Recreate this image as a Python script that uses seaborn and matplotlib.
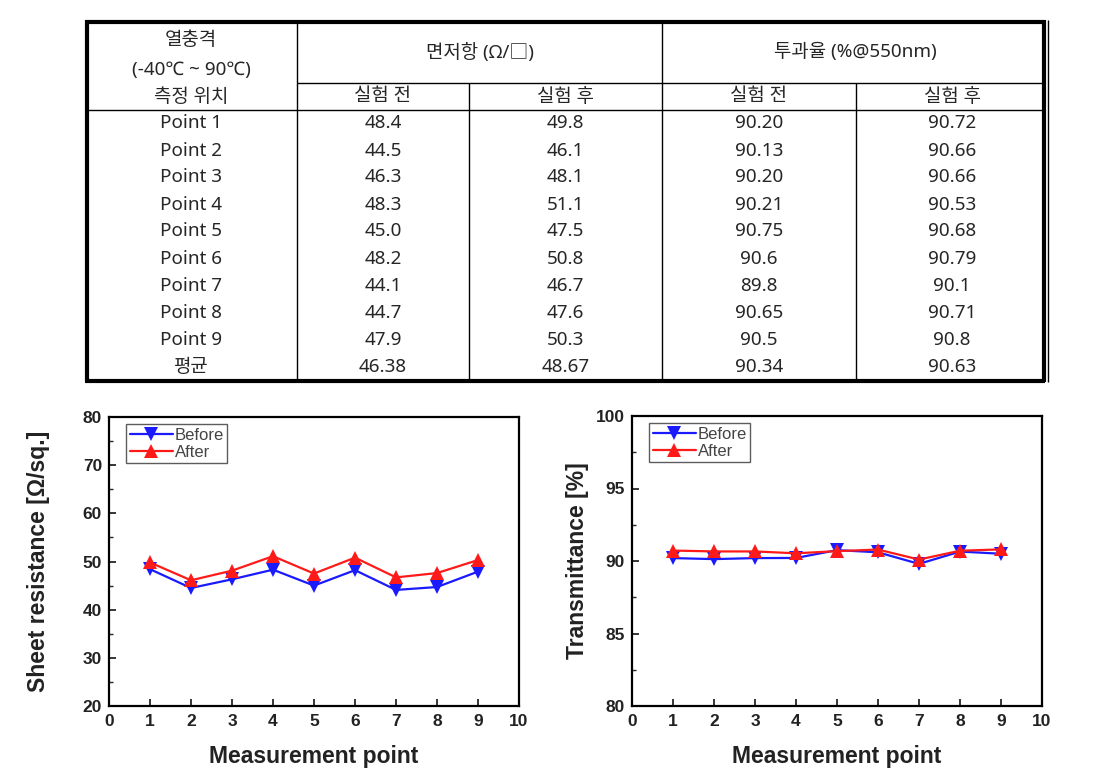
import matplotlib
matplotlib.use("Agg")
import matplotlib.pyplot as plt
from matplotlib.ticker import MultipleLocator
import seaborn as sns
import pandas as pd

# ---------------- data ----------------
points = ["Point 1", "Point 2", "Point 3", "Point 4", "Point 5",
          "Point 6", "Point 7", "Point 8", "Point 9"]
point_idx = [1, 2, 3, 4, 5, 6, 7, 8, 9]
rs_before = [48.4, 44.5, 46.3, 48.3, 45.0, 48.2, 44.1, 44.7, 47.9]
rs_after = [49.8, 46.1, 48.1, 51.1, 47.5, 50.8, 46.7, 47.6, 50.3]
tr_before = [90.20, 90.13, 90.20, 90.21, 90.75, 90.6, 89.8, 90.65, 90.5]
tr_after = [90.72, 90.66, 90.66, 90.53, 90.68, 90.79, 90.1, 90.71, 90.8]
rs_before_txt = ["48.4", "44.5", "46.3", "48.3", "45.0", "48.2", "44.1", "44.7", "47.9", "46.38"]
rs_after_txt = ["49.8", "46.1", "48.1", "51.1", "47.5", "50.8", "46.7", "47.6", "50.3", "48.67"]
tr_before_txt = ["90.20", "90.13", "90.20", "90.21", "90.75", "90.6", "89.8", "90.65", "90.5", "90.34"]
tr_after_txt = ["90.72", "90.66", "90.66", "90.53", "90.68", "90.79", "90.1", "90.71", "90.8", "90.63"]
row_labels = points + ["평균"]
header_top = ["열충격", "(-40℃ ~ 90℃)", "면저항 (Ω/□)", "투과율 (%@550nm)"]
header_sub = ["측정 위치", "실험 전", "실험 후", "실험 전", "실험 후"]
series_names = ["Before", "After"]

# ---------------- figure ----------------
sns.set_theme(style="white")
plt.rcParams['font.family'] = ['Liberation Sans', 'Noto Sans CJK KR', 'DejaVu Sans']
W, H = 1111, 777
fig = plt.figure(figsize=(W / 100, H / 100), dpi=100)
fig.patch.set_facecolor("white")


def rect(x0, y0, x1, y1):
    return [x0 / W, 1 - y1 / H, (x1 - x0) / W, (y1 - y0) / H]


# ---------------- table ----------------
tx0, ty0, tx1, ty1 = 85, 20, 1048, 382
ax_t = fig.add_axes(rect(tx0, ty0, tx1, ty1))
ax_t.set_xlim(tx0, tx1)
ax_t.set_ylim(ty1, ty0)
ax_t.axis("off")
cols = [85, 297, 469, 662, 856, 1048]
row_h1 = 83
row_h2 = 110
row_step = (ty1 - 2 - row_h2) / 10.0
kfont = ['Noto Sans', 'Noto Sans CJK KR', 'DejaVu Sans']
fs = 13.6

# outer border
lw_thick = 3.0
kw = dict(color="black", clip_on=False, solid_capstyle="butt")
ax_t.plot([tx0 + 1.5, tx0 + 1.5], [ty0, ty1], lw=lw_thick, **kw)
ax_t.plot([tx0, tx1 - 3], [ty0 + 1.5, ty0 + 1.5], lw=lw_thick, **kw)
ax_t.plot([tx0, tx1 - 3], [ty1 - 1.5, ty1 - 1.5], lw=lw_thick, **kw)
ax_t.plot([tx1 - 4, tx1 - 4], [ty0, ty1], lw=lw_thick, **kw)
ax_t.plot([tx1, tx1], [ty0, ty1], lw=1.0, **kw)
# inner lines
ax_t.plot([cols[1], tx1 - 4], [row_h1, row_h1], lw=1.0, **kw)
ax_t.plot([tx0, tx1 - 4], [row_h2, row_h2], lw=1.0, **kw)
for c in (cols[1], cols[3]):
    ax_t.plot([c, c], [ty0, ty1], lw=1.0, **kw)
for c in (cols[2], cols[4]):
    ax_t.plot([c, c], [row_h1, ty1], lw=1.0, **kw)

# header texts
ax_t.text((cols[0] + cols[1]) / 2, 40, header_top[0], ha="center", va="center", fontsize=fs, family=kfont)
ax_t.text((cols[0] + cols[1]) / 2, 70, header_top[1], ha="center", va="center", fontsize=fs, family=kfont)
ax_t.text((cols[1] + cols[3]) / 2, 52, header_top[2], ha="center", va="center", fontsize=fs, family=kfont)
ax_t.text((cols[3] + cols[5]) / 2, 52, header_top[3], ha="center", va="center", fontsize=fs, family=kfont)
for i, t in enumerate(header_sub):
    ax_t.text((cols[i] + cols[i + 1]) / 2, (row_h1 + row_h2) / 2, t, ha="center", va="center",
              fontsize=fs, family=kfont)
col_texts = [row_labels, rs_before_txt, rs_after_txt, tr_before_txt, tr_after_txt]
for r in range(10):
    yc = row_h2 + row_step * (r + 0.5)
    for c in range(5):
        ax_t.text((cols[c] + cols[c + 1]) / 2, yc, col_texts[c][r], ha="center", va="center",
                  fontsize=fs, family=kfont)

# ---------------- charts ----------------
df_rs = pd.DataFrame({
    "point": point_idx * 2,
    "value": rs_before + rs_after,
    "series": [series_names[0]] * 9 + [series_names[1]] * 9,
})
df_tr = pd.DataFrame({
    "point": point_idx * 2,
    "value": tr_before + tr_after,
    "series": [series_names[0]] * 9 + [series_names[1]] * 9,
})
palette = {"Before": "#1a1aff", "After": "#ff1a1a"}
markers = {"Before": "v", "After": "^"}


def draw(ax, df, ylim, ystep, ylabel, ylabel_x):
    sns.lineplot(data=df, x="point", y="value", hue="series", style="series",
                 hue_order=series_names, style_order=series_names,
                 palette=palette, markers=markers, dashes=False, markersize=10,
                 markeredgewidth=0, linewidth=1.6, ax=ax)
    ax.set_xlim(0, 10)
    ax.set_ylim(*ylim)
    ax.xaxis.set_major_locator(MultipleLocator(1))
    ax.yaxis.set_major_locator(MultipleLocator(ystep))
    ax.yaxis.set_minor_locator(MultipleLocator(ystep / 2))
    ax.tick_params(axis="x", which="major", direction="in", length=5, width=1.3,
                   labelsize=12.5, pad=6, bottom=True, top=False)
    ax.tick_params(axis="y", which="major", direction="in", length=5, width=1.3,
                   labelsize=12.5, pad=5, left=True, right=False)
    ax.tick_params(axis="y", which="minor", direction="in", length=3, width=1.0, left=True)
    for lab in ax.get_xticklabels() + ax.get_yticklabels():
        lab.set_fontweight("bold")
        lab.set_color("#222222")
    for s in ax.spines.values():
        s.set_visible(True)
        s.set_color("black")
        s.set_linewidth(1.6)
    ax.set_xlabel("Measurement point", fontsize=16.5, fontweight="bold", labelpad=11, color="#222222")
    ax.set_ylabel(ylabel, fontsize=16.5, fontweight="bold", color="#222222")
    ax.yaxis.set_label_coords(ylabel_x, 0.5)
    leg = ax.legend(loc="upper left", bbox_to_anchor=(0.042, 0.975), borderaxespad=0,
                    frameon=True, fancybox=False, fontsize=12,
                    handlelength=2.6, handletextpad=0.1, borderpad=0.2, labelspacing=0.15,
                    title=None)
    leg.get_frame().set_edgecolor("#333333")
    leg.get_frame().set_linewidth(1.0)
    for t in leg.get_texts():
        t.set_color("#444444")


ax1 = fig.add_axes(rect(109, 417, 519, 706))
draw(ax1, df_rs, (20, 80), 10, "Sheet resistance [Ω/sq.]", -0.145)
ax2 = fig.add_axes(rect(632, 416, 1042, 706))
draw(ax2, df_tr, (80, 100), 5, "Transmittance [%]", -0.105)

fig.savefig("out.png", dpi=100, facecolor="white")
